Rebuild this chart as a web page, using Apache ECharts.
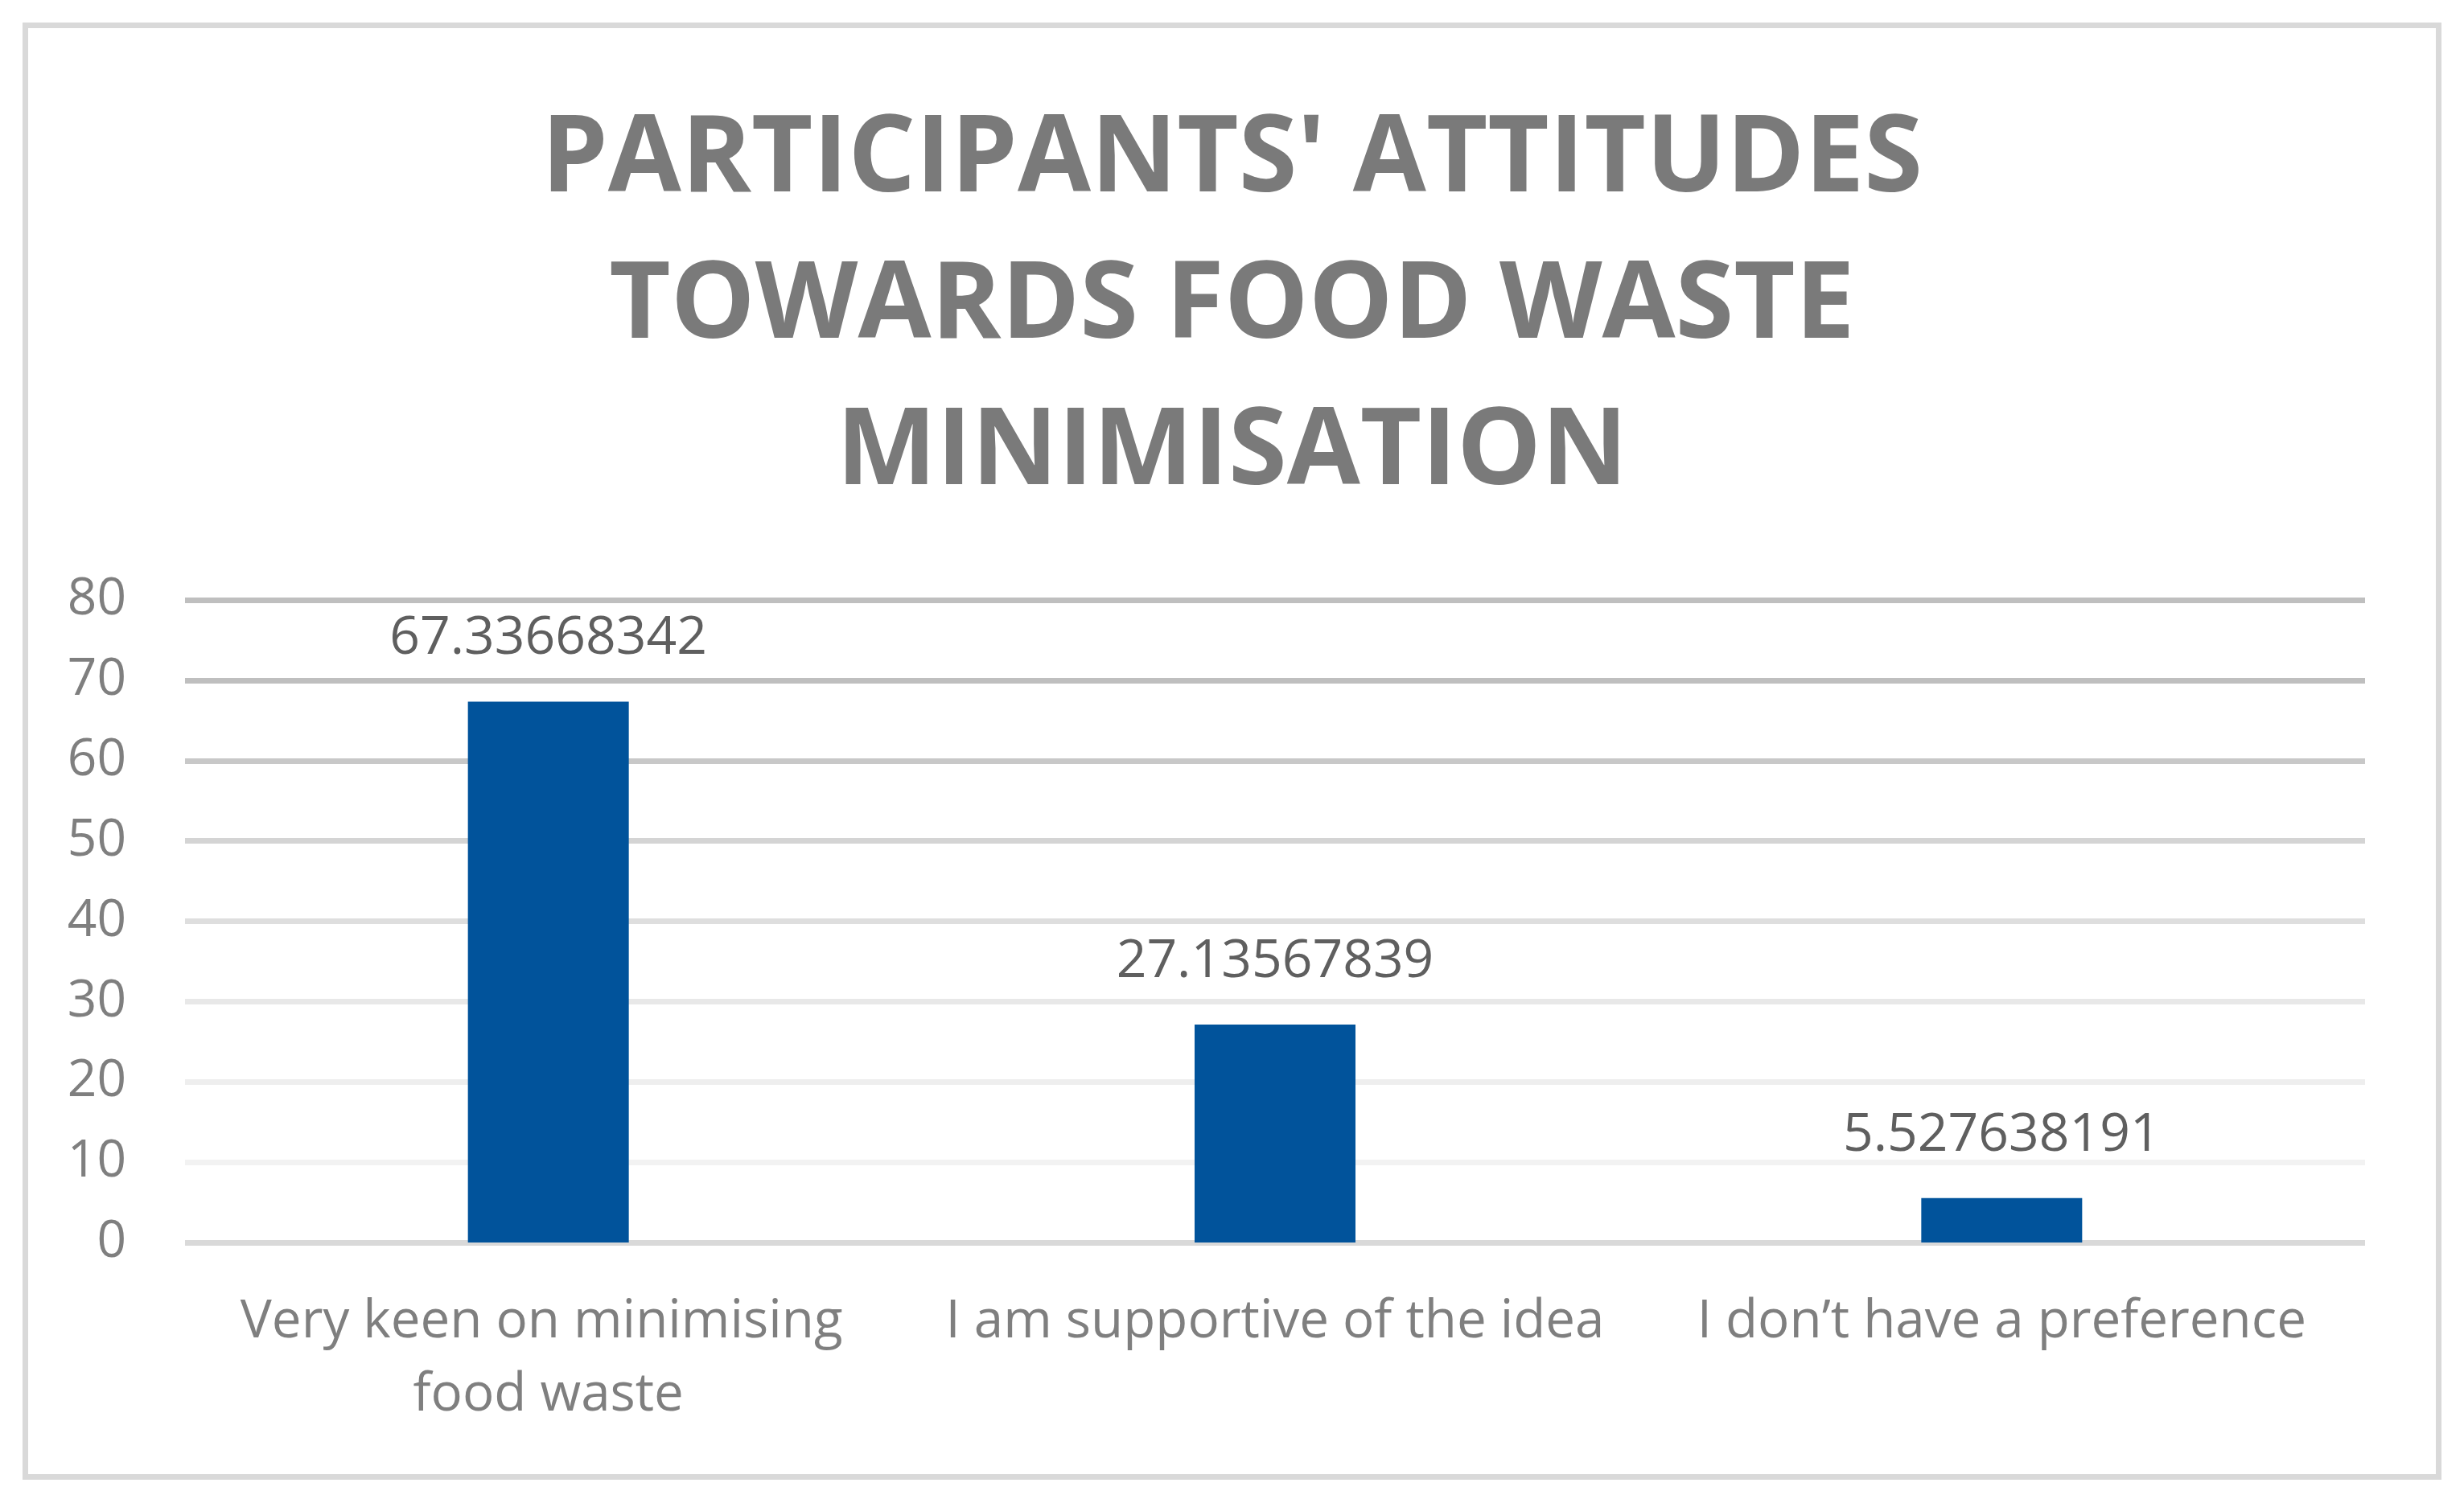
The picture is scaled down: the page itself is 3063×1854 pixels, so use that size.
<!DOCTYPE html>
<html>
<head>
<meta charset="utf-8">
<script src="https://cdn.jsdelivr.net/npm/echarts@6/dist/echarts.min.js"></script>
<style>
html,body{margin:0;padding:0;background:#fff;}
#chart{width:3063px;height:1854px;}
</style>
</head>
<body>
<div id="chart"></div>
<script>
const titleText = "PARTICIPANTS' ATTITUDES\nTOWARDS FOOD WASTE\nMINIMISATION";
const categories = ["Very keen on minimising food waste", "I am supportive of the idea", "I don\u2019t have a preference"];
const values = [67.33668342, 27.13567839, 5.527638191];
const yTicks = { min: 0, max: 80, interval: 10 };

const chart = echarts.init(document.getElementById('chart'), null, { renderer: 'canvas' });
chart.setOption({
  backgroundColor: '#ffffff',
  animation: false,
  title: {
    text: titleText,
    left: 'center',
    top: 109,
    padding: 0,
    textStyle: {
      fontFamily: 'Open Sans',
      fontWeight: 'bold',
      fontSize: 132,
      lineHeight: 182,
      color: '#7a7a7a'
    }
  },
  graphic: [{
    type: 'rect',
    shape: { x: 31.5, y: 31.5, width: 3000, height: 1805 },
    style: { fill: 'none', stroke: '#d9d9d9', lineWidth: 7 },
    silent: true
  }],
  grid: { left: 230, right: 123, top: 746, bottom: 309, containLabel: false },
  xAxis: {
    type: 'category',
    data: categories,
    axisLine: { show: false },
    axisTick: { show: false },
    axisLabel: {
      interval: 0,
      margin: 54,
      width: 830,
      overflow: 'break',
      fontFamily: 'Open Sans',
      fontSize: 65.5,
      lineHeight: 91,
      color: '#7f7f7f'
    }
  },
  yAxis: {
    type: 'value',
    min: yTicks.min,
    max: yTicks.max,
    interval: yTicks.interval,
    axisLine: { show: false },
    axisTick: { show: false },
    axisLabel: {
      margin: 73,
      fontFamily: 'Open Sans',
      fontSize: 64,
      color: '#7f7f7f'
    },
    splitLine: {
      show: true,
      lineStyle: {
        width: 7,
        color: ['#d9d9d9', '#f2f2f2', '#eeeeee', '#e8e8e8', '#dedede', '#d4d4d4', '#c8c8c8', '#bfbfbf', '#bfbfbf']
      }
    }
  },
  series: [{
    type: 'bar',
    data: values,
    barWidth: 200,
    itemStyle: { color: '#01539b' },
    label: {
      show: true,
      position: 'top',
      distance: 45,
      formatter: '{c}',
      fontFamily: 'Open Sans',
      fontSize: 66,
      color: '#5f5f5f'
    }
  }]
});
</script>
</body>
</html>
